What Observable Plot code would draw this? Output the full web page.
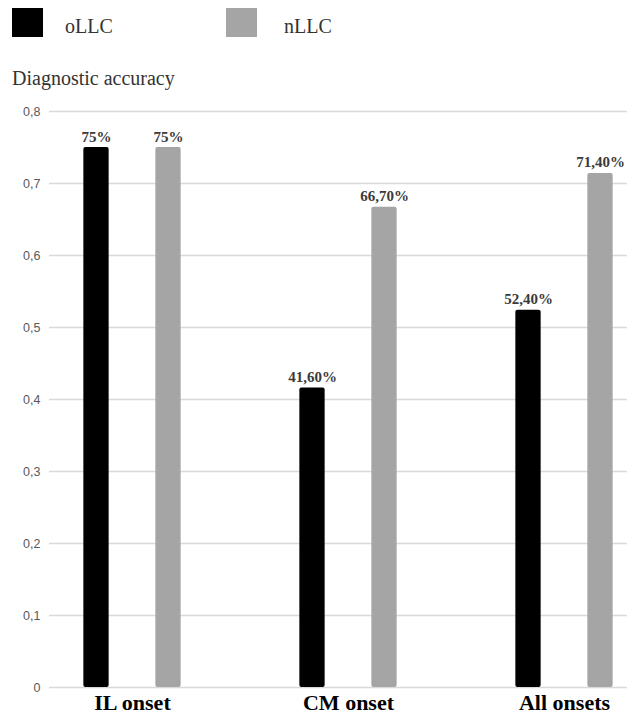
<!DOCTYPE html>
<html>
<head>
<meta charset="utf-8">
<script src="https://cdn.jsdelivr.net/npm/d3@7"></script>
<script src="https://cdn.jsdelivr.net/npm/@observablehq/plot@0.6"></script>
<style>
  html, body { margin: 0; padding: 0; background: #fff; }
  #wrap { width: 635px; }
  #header { position: relative; width: 635px; height: 90px; font-family: "Liberation Serif", "Times New Roman", serif; color: #333; }
  .sw { position: absolute; top: 8px; width: 31px; height: 29px; }
  .lt { position: absolute; font-size: 20px; line-height: 20px; white-space: nowrap; }
  svg { display: block; }
</style>
</head>
<body>
<div id="wrap">
  <div id="header"></div>
  <div id="chart"></div>
</div>
<script>
const groups = ["IL onset", "CM onset", "All onsets"];
const series = ["oLLC", "nLLC"];
const seriesColors = ["#000000", "#a5a5a5"];
const oLLC = [0.75, 0.416, 0.524];
const nLLC = [0.75, 0.667, 0.714];
const oLabels = ["75%", "41,60%", "52,40%"];
const nLabels = ["75%", "66,70%", "71,40%"];
const yTicks = [0, 0.1, 0.2, 0.3, 0.4, 0.5, 0.6, 0.7, 0.8];
const yTickLabels = ["0", "0,1", "0,2", "0,3", "0,4", "0,5", "0,6", "0,7", "0,8"];
const yTitle = "Diagnostic accuracy";

// header: legend + axis title
const header = document.getElementById("header");
const legendPos = [{sw: 12, tx: 65}, {sw: 226, tx: 284}];
series.forEach((s, i) => {
  const sw = document.createElement("div");
  sw.className = "sw";
  sw.style.left = legendPos[i].sw + "px";
  sw.style.background = seriesColors[i];
  header.appendChild(sw);
  const t = document.createElement("div");
  t.className = "lt";
  t.style.left = legendPos[i].tx + "px";
  t.style.top = "16px";
  t.textContent = s;
  header.appendChild(t);
});
const yt = document.createElement("div");
yt.className = "lt";
yt.style.left = "12px";
yt.style.top = "68px";
yt.textContent = yTitle;
header.appendChild(yt);

const oData = groups.map((g, i) => ({group: g, value: oLLC[i], label: oLabels[i]}));
const nData = groups.map((g, i) => ({group: g, value: nLLC[i], label: nLabels[i]}));

const barW = 26;
const off = 36;
const step = 216.7;
const inset = (step - barW) / 2;

const labelStyle = {
  fontFamily: "Liberation Serif, Times New Roman, serif",
  fontWeight: "bold",
  fontSize: 15,
  fill: "#3a3a3a",
  lineAnchor: "bottom",
  dy: -6
};

const chart = Plot.plot({
  width: 635,
  height: 626,
  marginTop: 21,
  marginBottom: 29,
  marginLeft: 49,
  marginRight: 8,
  x: {type: "band", domain: groups, range: [22.6, 22.6 + 3 * step], padding: 0},
  y: {domain: [0, 0.8], label: null},
  marks: [
    Plot.ruleY(yTicks, {stroke: "#d9d9d9", strokeWidth: 1.5}),
    Plot.barY(oData, {x: "group", y: "value", fill: seriesColors[0], insetLeft: inset, insetRight: inset, dx: -off, rx: 2}),
    Plot.barY(nData, {x: "group", y: "value", fill: seriesColors[1], insetLeft: inset, insetRight: inset, dx: off, rx: 2}),
    Plot.text(oData, {x: "group", y: "value", text: "label", dx: -off, ...labelStyle}),
    Plot.text(nData, {x: "group", y: "value", text: "label", dx: off, ...labelStyle}),
    Plot.axisY({
      ticks: yTicks,
      tickFormat: (d, i) => yTickLabels[i],
      tickSize: 0,
      tickPadding: 9,
      label: null,
      fontSize: 12.5,
      fontFamily: "Liberation Sans, Arial, sans-serif",
      fill: "#595959"
    }),
    Plot.axisX({
      tickSize: 0,
      tickPadding: 7,
      label: null,
      fontSize: 22,
      fontWeight: "bold",
      fontFamily: "Liberation Serif, Times New Roman, serif",
      fill: "#000"
    })
  ]
});
document.getElementById("chart").appendChild(chart);
</script>
</body>
</html>
